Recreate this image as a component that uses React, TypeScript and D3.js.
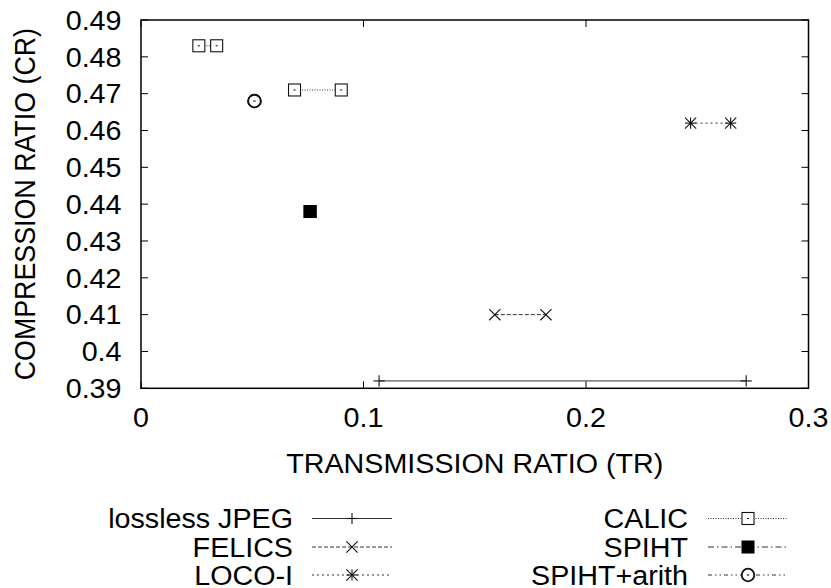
import React from "react";
import * as d3 from "d3";

const xTicks = [0, 0.1, 0.2, 0.3];
const yTicks = [0.39, 0.4, 0.41, 0.42, 0.43, 0.44, 0.45, 0.46, 0.47, 0.48, 0.49];

// each series: list of segments, each segment a list of [TR, CR] points
const jpegPts = [[[0.107, 0.392], [0.272, 0.392]]];
const felicsPts = [[[0.159, 0.41], [0.182, 0.41]]];
const locoPts = [[[0.247, 0.462], [0.265, 0.462]]];
const calicPts = [
  [[0.026, 0.483], [0.034, 0.483]],
  [[0.069, 0.471], [0.09, 0.471]],
];
const spihtPts = [[[0.076, 0.438], [0.076, 0.438]]];
const spihtArithPts = [[[0.051, 0.468], [0.051, 0.468]]];

const seriesNames = ["lossless JPEG", "FELICS", "LOCO-I", "CALIC", "SPIHT", "SPIHT+arith"];

const FONT = "'Liberation Sans', Arial, Helvetica, sans-serif";
const FS = 26.8;
const SX = 1.07;

type Marker = "plus" | "cross" | "star" | "square" | "fsquare" | "circle";

const series: { name: string; data: number[][][]; marker: Marker; dash: string }[] = [
  { name: seriesNames[0], data: jpegPts, marker: "plus", dash: "" },
  { name: seriesNames[1], data: felicsPts, marker: "cross", dash: "4,2" },
  { name: seriesNames[2], data: locoPts, marker: "star", dash: "2,3" },
  { name: seriesNames[3], data: calicPts, marker: "square", dash: "1,1.5" },
  { name: seriesNames[4], data: spihtPts, marker: "fsquare", dash: "6,3,1.5,3" },
  { name: seriesNames[5], data: spihtArithPts, marker: "circle", dash: "4,3,1.5,3,1.5,3" },
];

function SText({
  x,
  y,
  anchor,
  rotate,
  children,
}: {
  x: number;
  y: number;
  anchor: string;
  rotate?: number;
  children: React.ReactNode;
}) {
  const t = `translate(${x},${y}) scale(${SX},1)` + (rotate ? ` rotate(${rotate})` : "");
  return (
    <text transform={t} textAnchor={anchor} fontSize={FS} fill="#000">
      {children}
    </text>
  );
}

function MarkerShape({ type, x, y }: { type: Marker; x: number; y: number }) {
  const s = 5.6;
  const stroke = "#111";
  switch (type) {
    case "plus":
      return (
        <g stroke={stroke} strokeWidth={1.1}>
          <line x1={x - s} x2={x + s} y1={y} y2={y} />
          <line x1={x} x2={x} y1={y - s} y2={y + s} />
        </g>
      );
    case "cross":
      return (
        <g stroke={stroke} strokeWidth={1.1}>
          <line x1={x - s} x2={x + s} y1={y - s} y2={y + s} />
          <line x1={x - s} x2={x + s} y1={y + s} y2={y - s} />
        </g>
      );
    case "star":
      return (
        <g stroke={stroke} strokeWidth={1.1}>
          <line x1={x - s} x2={x + s} y1={y} y2={y} />
          <line x1={x} x2={x} y1={y - s} y2={y + s} />
          <line x1={x - s} x2={x + s} y1={y - s} y2={y + s} />
          <line x1={x - s} x2={x + s} y1={y + s} y2={y - s} />
        </g>
      );
    case "square":
      return (
        <g>
          <rect x={x - 6} y={y - 6} width={12} height={12} fill="#fff" stroke={stroke} strokeWidth={1.1} />
          <line x1={x - 1} x2={x + 1} y1={y} y2={y} stroke={stroke} strokeWidth={1.1} />
        </g>
      );
    case "fsquare":
      return <rect x={x - 6.5} y={y - 6.5} width={13} height={13} fill="#000" />;
    case "circle":
      return (
        <g>
          <circle cx={x} cy={y} r={6.3} fill="#fff" stroke={stroke} strokeWidth={1.8} />
          <line x1={x - 1.2} x2={x + 1.2} y1={y} y2={y} stroke={stroke} strokeWidth={1.1} />
        </g>
      );
  }
}

export default function App() {
  const W = 831;
  const H = 588;
  const x = d3.scaleLinear().domain([0, 0.3]).range([141, 808.5]);
  const y = d3.scaleLinear().domain([0.39, 0.49]).range([388.3, 20]);
  const line = d3
    .line<number[]>()
    .x((d) => x(d[0]))
    .y((d) => y(d[1]));
  const tick = 7;
  const [x0, x1] = x.range();
  const [y0, y1] = y.range();

  const legendRows = [518.5, 547, 575];
  const legendCols = [
    { textEnd: 293, lineStart: 312 },
    { textEnd: 688, lineStart: 708 },
  ];

  return (
    <svg
      width={W}
      height={H}
      style={{ position: "absolute", left: 0, top: 0, background: "#fff" }}
      fontFamily={FONT}
    >
      <rect width={W} height={H} fill="#fff" />
      {/* ticks */}
      <g stroke="#000" strokeWidth={1}>
        {yTicks.map((t) => (
          <g key={"y" + t}>
            <line x1={x0} x2={x0 + tick} y1={y(t)} y2={y(t)} />
            <line x1={x1} x2={x1 - tick} y1={y(t)} y2={y(t)} />
          </g>
        ))}
        {xTicks.map((t) => (
          <g key={"x" + t}>
            <line x1={x(t)} x2={x(t)} y1={y0} y2={y0 - tick} />
            <line x1={x(t)} x2={x(t)} y1={y1} y2={y1 + tick} />
          </g>
        ))}
      </g>
      {/* tick labels */}
      {yTicks.map((t) => (
        <SText key={"yl" + t} x={121.5} y={y(t) + 9.8} anchor="end">
          {d3.format("")(+t.toFixed(2))}
        </SText>
      ))}
      {xTicks.map((t) => (
        <SText key={"xl" + t} x={x(t)} y={427} anchor="middle">
          {d3.format("")(+t.toFixed(1))}
        </SText>
      ))}
      {/* axis labels */}
      <SText x={(x0 + x1) / 2} y={473} anchor="middle">
        TRANSMISSION RATIO (TR)
      </SText>
      <SText x={34.5} y={(y0 + y1) / 2} anchor="middle" rotate={-90}>
        COMPRESSION RATIO (CR)
      </SText>
      {/* series */}
      {series.map((s) => (
        <g key={s.name}>
          {s.data.map((seg, i) => (
            <path
              key={i}
              d={line(seg) || ""}
              fill="none"
              stroke="#333"
              strokeWidth={1}
              strokeDasharray={s.dash || undefined}
            />
          ))}
          {s.data.map((seg, i) =>
            seg.map((p, j) => <MarkerShape key={i + "-" + j} type={s.marker} x={x(p[0])} y={y(p[1])} />)
          )}
        </g>
      ))}
      {/* border */}
      <rect x={x0} y={y1} width={x1 - x0} height={y0 - y1} fill="none" stroke="#000" strokeWidth={1.5} />
      {/* legend */}
      {series.map((s, i) => {
        const col = legendCols[Math.floor(i / 3)];
        const ry = legendRows[i % 3];
        return (
          <g key={"lg" + s.name}>
            <SText x={col.textEnd} y={ry + 9.5} anchor="end">
              {s.name}
            </SText>
            <line
              x1={col.lineStart}
              x2={col.lineStart + 80}
              y1={ry}
              y2={ry}
              stroke="#333"
              strokeWidth={1}
              strokeDasharray={s.dash || undefined}
            />
            <MarkerShape type={s.marker} x={col.lineStart + 40} y={ry} />
          </g>
        );
      })}
    </svg>
  );
}
